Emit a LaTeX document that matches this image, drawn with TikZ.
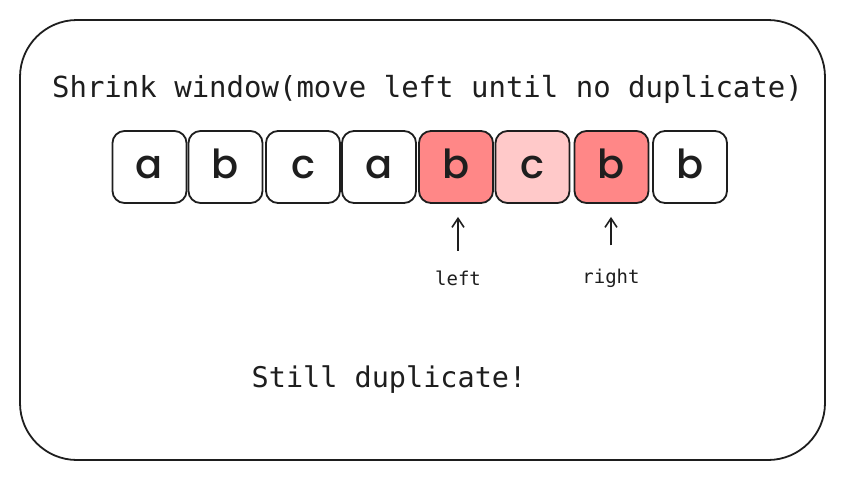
\documentclass[tikz,border=0pt]{standalone}
\usepackage{fontspec}
\setmainfont{Poppins}[UprightFont=* Medium]
\setmonofont{DejaVu Sans Mono}
\usetikzlibrary{arrows.meta}
\definecolor{ink}{HTML}{1E1E1E}
\definecolor{redA}{HTML}{FF8787}
\definecolor{redB}{HTML}{FFC9C9}
\begin{document}
\begin{tikzpicture}[x=1pt,y=-1pt,
  frame/.style={draw=ink, line width=1.8pt, rounded corners=57pt, minimum width=805pt, minimum height=440pt, inner sep=0pt},
  cell/.style={draw=ink, line width=1.8pt, rounded corners=12pt, minimum width=74pt, minimum height=72pt, inner sep=0pt, font=\fontsize{40}{40}\selectfont, text=ink, text height=30pt, text depth=8pt},
  heading/.style={anchor=base, inner sep=0pt, text=ink, font=\ttfamily\fontsize{29}{29}\selectfont},
  ptrlabel/.style={anchor=base, inner sep=0pt, text=ink, font=\ttfamily\fontsize{19}{19}\selectfont},
  ptr/.style={draw=ink, line width=1.8pt, -{Straight Barb[length=9pt,width=12pt,line width=1.6pt]}},
]
\useasboundingbox (0,0) rectangle (844,480);
\node[frame] (box) at (422.5,240) {};
\node[heading] (title) at (427.5,97) {Shrink window(move left until no duplicate)};
\node[cell] (b1) at (149.5,167) {a};
\node[cell] (b2) at (225.5,167) {b};
\node[cell] (b3) at (303,167) {c};
\node[cell] (b4) at (379,167) {a};
\node[cell, fill=redA] (b5) at (456,167) {b};
\node[cell, fill=redB] (b6) at (532.5,167) {c};
\node[cell, fill=redA] (b7) at (611.5,167) {b};
\node[cell] (b8) at (690,167) {b};
\node[ptrlabel] (lleft) at (458,285.5) {left};
\node[ptrlabel] (lright) at (611,283) {right};
\draw[ptr, shorten <=20pt, shorten >=13pt] (lleft.north) -- (lleft.north |- b5.south);
\draw[ptr, shorten <=23pt, shorten >=13pt] (lright.north) -- (lright.north |- b7.south);
\node[heading, font=\ttfamily\fontsize{28.5}{28.5}\selectfont] (still) at (389,387) {Still duplicate!};
\end{tikzpicture}
\end{document}
